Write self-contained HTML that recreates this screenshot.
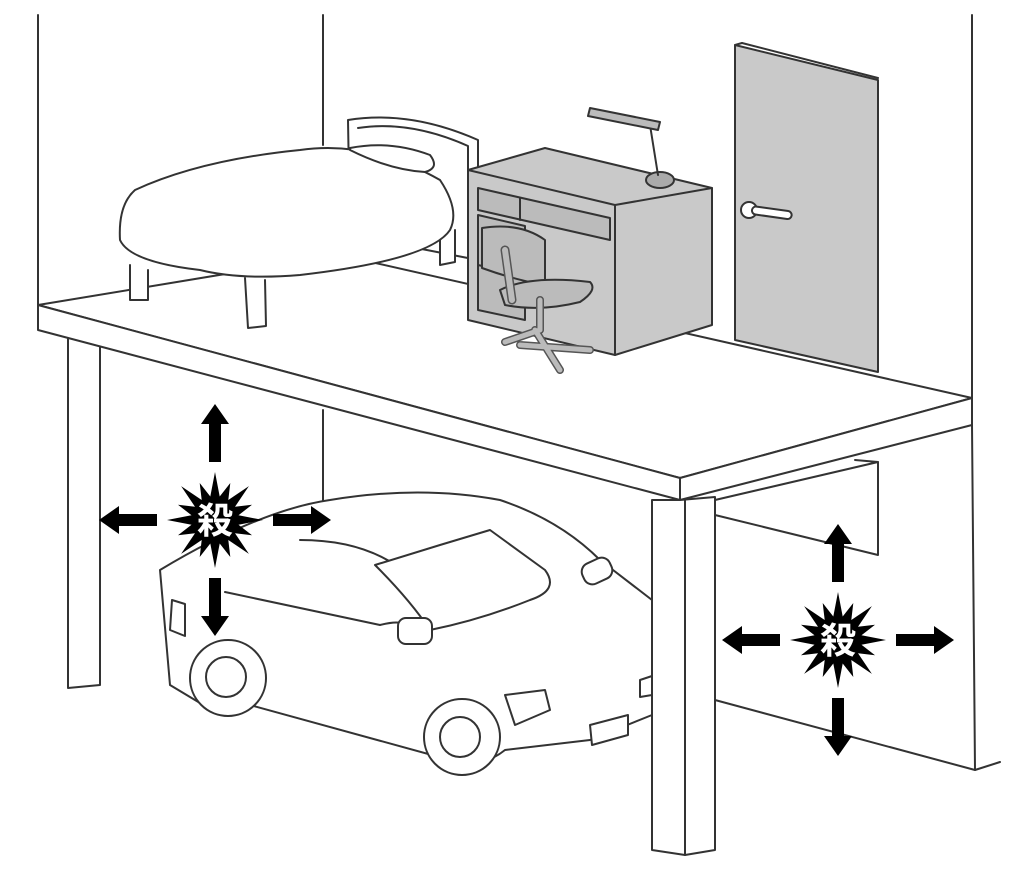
<!DOCTYPE html>
<html><head><meta charset="utf-8"><style>
html,body{margin:0;padding:0;background:#fff;width:1024px;height:889px;overflow:hidden}
svg{display:block}
text{font-family:"Liberation Sans","Noto Sans CJK JP",sans-serif;font-weight:bold}
</style></head><body>
<svg width="1024" height="889" viewBox="0 0 1024 889" fill="none" stroke="#333" stroke-width="2" stroke-linejoin="round" stroke-linecap="round">
<!-- walls -->
<line x1="38" y1="15" x2="38" y2="305"/>
<line x1="323" y1="15" x2="323" y2="145"/>
<line x1="972" y1="15" x2="972" y2="398"/>
<line x1="323" y1="410" x2="323" y2="525"/>
<!-- lower back wall right -->
<polygon points="715,500 878,462 878,555 715,515" fill="#fff"/>
<line x1="855" y1="460" x2="878" y2="462"/>
<polyline points="972,425 975,770 1000,762"/>
<line x1="715" y1="700" x2="975" y2="770"/>
<!-- left column -->
<polygon points="68,330 100,335 100,685 68,688" fill="#fff"/>
<!-- slab -->
<polygon points="38,305 340,255 972,398 680,478" fill="#fff"/>
<polygon points="38,305 680,478 680,500 38,330" fill="#fff"/>
<polygon points="680,478 972,398 972,425 680,500" fill="#fff"/>
<!-- door -->
<polygon points="735,45 878,80 878,372 735,340" fill="#c9c9c9"/>
<line x1="735" y1="45" x2="742" y2="43"/><line x1="742" y1="43" x2="878" y2="78"/>
<circle cx="749" cy="210" r="8" fill="#fff"/>
<rect x="752" y="206" width="40" height="8" rx="4" fill="#fff" transform="rotate(8 752 210)"/>
<!-- bed -->
<path d="M348,120 Q410,110 478,140 L478,260 L350,235 Z" fill="#fff"/>
<path d="M358,128 Q410,120 468,146 L468,250" />
<path d="M130,265 L130,300 L148,300 L148,270" fill="#fff"/>
<path d="M245,278 L248,328 L266,326 L265,280" fill="#fff"/>
<path d="M440,230 L440,265 L455,262 L455,230" fill="#fff"/>
<path d="M135,190 Q200,160 300,150 Q370,140 440,180 Q460,210 450,230 Q430,260 300,275 Q240,280 200,270 Q130,262 120,240 Q118,205 135,190 Z" fill="#fff"/>
<path d="M350,148 Q390,140 430,155 Q440,168 425,172 Q390,170 350,150Z" fill="#fff"/>
<!-- desk -->
<polygon points="468,170 545,148 712,188 712,325 615,355 468,320" fill="#c9c9c9"/>
<polyline points="468,170 615,205 712,188"/>
<line x1="615" y1="205" x2="615" y2="355"/>
<polygon points="478,188 610,218 610,240 478,210" fill="#bbb"/>
<line x1="520" y1="198" x2="520" y2="220"/>
<polygon points="478,215 525,226 525,320 478,310" fill="#bbb"/>
<line x1="478" y1="265" x2="525" y2="276"/>
<!-- lamp -->
<ellipse cx="660" cy="180" rx="14" ry="8" fill="#aaa"/>
<line x1="658" y1="175" x2="650" y2="125"/>
<path d="M590,108 L660,122 L658,130 L588,116 Z" fill="#bbb"/>
<!-- chair -->
<path d="M482,228 Q520,222 545,240 L545,285 Q515,280 482,268 Z" fill="#bbb"/>
<path d="M500,290 Q530,275 590,282 Q598,290 580,302 Q540,312 505,305 Z" fill="#bbb"/>
<path d="M540,300 L540,330 M520,345 L590,350 M535,330 L560,370 M540,330 L505,342" stroke-width="8" stroke="#555"/>
<path d="M540,300 L540,330 M520,345 L590,350 M535,330 L560,370 M540,330 L505,342" stroke-width="5" stroke="#bbb"/>
<path d="M505,250 L512,300" stroke-width="9" stroke="#555"/><path d="M505,250 L512,300" stroke-width="6" stroke="#bbb"/>
<!-- car -->
<path d="M160,570 Q260,510 330,500 Q420,485 500,500 Q560,520 600,560 L652,600 L652,715 L590,740 L505,750 Q480,770 450,760 L250,705 L215,712 L170,685 L160,570 Z" fill="#fff"/>
<path d="M225,592 L380,625 Q400,620 405,625"/>
<path d="M300,540 Q390,540 430,600 L425,620"/>
<path d="M375,565 L440,545 L490,530 L545,570 Q560,590 530,600 Q480,620 430,630 Q410,600 375,565Z" fill="#fff"/>
<rect x="398" y="618" width="34" height="26" rx="8" fill="#fff"/>
<rect x="582" y="560" width="30" height="22" rx="9" fill="#fff" transform="rotate(-25 597 571)"/>
<path d="M172,600 L170,630 L185,636 L185,604Z"/>
<path d="M505,695 L545,690 L550,710 L515,725 Z" fill="#fff"/>
<path d="M590,725 L628,715 L628,735 L592,745 Z" fill="#fff"/>
<path d="M640,680 L652,676 L652,695 L640,697Z"/>
<circle cx="228" cy="678" r="38" fill="#fff"/><circle cx="226" cy="677" r="20"/>
<circle cx="462" cy="737" r="38" fill="#fff"/><circle cx="460" cy="737" r="20"/>
<!-- front column -->
<polygon points="652,500 680,500 715,497 715,850 685,855 652,850" fill="#fff"/>
<line x1="685" y1="500" x2="685" y2="855"/>
<!-- explosions -->
<g id="ex1" transform="translate(215,520)"></g>
<g id="ex2" transform="translate(838,640)"></g>
</svg>
<script>
function star(g){
 var pts=[];for(var i=0;i<32;i++){var a=i*Math.PI/16;var r=i%2?24:(i%4?40:48);pts.push((r*Math.cos(a)).toFixed(1)+','+(r*Math.sin(a)).toFixed(1));}
 var ns='http://www.w3.org/2000/svg';
 var p=document.createElementNS(ns,'polygon');p.setAttribute('points',pts.join(' '));p.setAttribute('fill','#000');p.setAttribute('stroke','none');g.appendChild(p);
 var arr=[[0,-1],[0,1],[-1,0],[1,0]];
 arr.forEach(function(d){var q=document.createElementNS(ns,'path');
  var ang=Math.atan2(d[1],d[0])*180/Math.PI;
  q.setAttribute('d','M58,-6 L96,-6 L96,-14 L116,0 L96,14 L96,6 L58,6 Z');
  q.setAttribute('fill','#000');q.setAttribute('stroke','none');q.setAttribute('transform','rotate('+ang+')');g.appendChild(q);});
 var t=document.createElementNS(ns,'text');t.setAttribute('x',0);t.setAttribute('y',13);t.setAttribute('text-anchor','middle');t.setAttribute('font-size','36');t.setAttribute('fill','#fff');t.setAttribute('stroke','none');t.textContent='殺';g.appendChild(t);
}
star(document.getElementById('ex1'));star(document.getElementById('ex2'));
</script>
</body></html>
